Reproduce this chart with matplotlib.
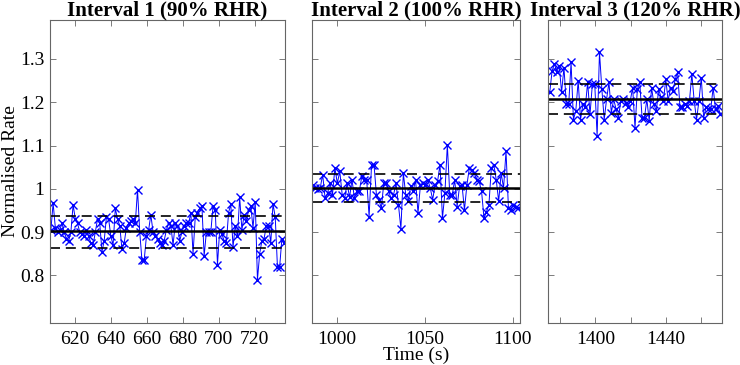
import numpy as np
from matplotlib import pyplot as plt

plt.rcParams['font.family'] = ['Liberation Serif', 'DejaVu Serif']

titles = ['Interval 1 (90% RHR)', 'Interval 2 (100% RHR)', 'Interval 3 (120% RHR)']

time_1 = (606.5, 736.5)
rate_1 = [0.905, 0.967, 0.91, 0.90, 0.905, 0.92, 0.90, 0.885, 0.88, 0.90, 0.963, 0.93, 0.92, 0.90,
          0.895, 0.89, 0.905, 0.89, 0.875, 0.87, 0.90, 0.93, 0.92, 0.855, 0.88, 0.935, 0.93, 0.89,
          0.87, 0.955, 0.93, 0.915, 0.86, 0.875, 0.91, 0.92, 0.925, 0.93, 0.92, 0.998, 0.90, 0.835,
          0.835, 0.89, 0.905, 0.94, 0.90, 0.89, 0.885, 0.875, 0.87, 0.88, 0.905, 0.92, 0.915, 0.87,
          0.92, 0.915, 0.88, 0.90, 0.915, 0.92, 0.92, 0.945, 0.85, 0.935, 0.945, 0.955, 0.96, 0.845,
          0.90, 0.90, 0.90, 0.96, 0.95, 0.825, 0.905, 0.895, 0.88, 0.875, 0.945, 0.965, 0.865, 0.915,
          0.89, 0.98, 0.905, 0.94, 0.925, 0.95, 0.96, 0.91, 0.97, 0.79, 0.85, 0.88, 0.885, 0.915,
          0.915, 0.875, 0.965, 0.935, 0.82, 0.82, 0.885, 0.875]
band_1 = (0.864, 0.902, 0.938)

time_2 = (986.5, 1103.0)
rate_2 = [1.009, 1.002, 1.0, 1.002, 1.033, 0.978, 0.99, 1.013, 0.986, 1.048, 1.013, 1.04, 0.986,
          0.978, 1.013, 0.98, 1.021, 0.978, 0.994, 0.994, 1.029, 1.021, 1.021, 0.936, 1.056, 1.056,
          0.986, 0.975, 0.955, 1.013, 1.013, 0.994, 0.978, 0.986, 1.013, 0.963, 0.908, 1.036, 0.986,
          0.971, 1.006, 0.994, 1.021, 0.944, 1.009, 1.013, 1.009, 1.021, 1.002, 0.975, 1.009, 1.017,
          1.056, 0.932, 0.99, 1.102, 0.986, 0.986, 1.021, 0.959, 1.006, 1.009, 0.951, 1.009, 1.048,
          1.044, 1.036, 1.021, 1.017, 0.994, 0.932, 0.947, 0.963, 1.048, 1.056, 1.021, 0.971, 1.036,
          1.002, 1.087, 0.955, 0.951, 0.963, 0.959, 0.955]
band_2 = (0.969, 1.001, 1.034)

time_3 = (1374.0, 1471.0)
rate_3 = [1.223, 1.273, 1.288, 1.27, 1.284, 1.223, 1.28, 1.195, 1.195, 1.292, 1.16, 1.18, 1.25,
          1.16, 1.195, 1.188, 1.246, 1.172, 1.242, 1.242, 1.122, 1.316, 1.23, 1.16, 1.207, 1.246,
          1.176, 1.207, 1.184, 1.164, 1.203, 1.207, 1.199, 1.188, 1.203, 1.234, 1.141, 1.23, 1.246,
          1.164, 1.164, 1.207, 1.157, 1.234, 1.195, 1.18, 1.23, 1.211, 1.203, 1.253, 1.203, 1.234,
          1.226, 1.253, 1.269, 1.188, 1.188, 1.195, 1.191, 1.203, 1.265, 1.203, 1.16, 1.203, 1.257,
          1.164, 1.188, 1.184, 1.184, 1.234, 1.184, 1.191, 1.172]
band_3 = (1.172, 1.207, 1.243)

xlims = [(606, 737), (986, 1104), (1373, 1472)]
xticks = [[620, 640, 660, 680, 700, 720], [1000, 1050, 1100], [1380, 1400, 1420, 1440, 1460]]
xticklabels = [['620', '640', '660', '680', '700', '720'], ['1000', '1050', '1100'],
               ['', '1400', '', '1440', '']]
yticks = [0.8, 0.9, 1.0, 1.1, 1.2, 1.3]
yticklabels = ['0.8', '0.9', '1', '1.1', '1.2', '1.3']

W, H = 740, 365
boxes = [(50, 285), (312, 520), (548, 722)]
top, bottom = 20, 323

fig = plt.figure(figsize=(W / 100, H / 100), dpi=100)

panels = [(time_1, rate_1, band_1), (time_2, rate_2, band_2), (time_3, rate_3, band_3)]
for i, ((t0, t1), rate, band) in enumerate(panels):
    x0, x1 = boxes[i]
    ax = fig.add_axes([x0 / W, 1 - bottom / H, (x1 - x0) / W, (bottom - top) / H])
    t = np.linspace(t0, t1, len(rate))
    ax.plot(t, rate, color='blue', marker='x', markersize=5.5, linewidth=0.7, markeredgewidth=1.0)
    ax.axhline(band[1], color='black', linewidth=1.8)
    ax.axhline(band[0], color='black', linewidth=1.2, linestyle=(0, (6, 3.5)))
    ax.axhline(band[2], color='black', linewidth=1.2, linestyle=(0, (6, 3.5)))
    ax.set_xlim(*xlims[i])
    ax.set_ylim(0.69, 1.39)
    ax.set_xticks(xticks[i])
    ax.set_xticklabels(xticklabels[i])
    ax.set_yticks(yticks)
    if i == 0:
        ax.set_yticklabels(yticklabels)
        ax.set_ylabel('Normalised Rate', fontsize=14, labelpad=1)
    else:
        ax.set_yticklabels([])
    ax.tick_params(direction='in', top=True, right=True, length=4, width=0.6,
                   color='#666666', labelsize=14, pad=6)
    ax.tick_params(axis='y', pad=4)
    for s in ax.spines.values():
        s.set_color('#666666')
        s.set_linewidth(0.8)
    ax.set_title(titles[i], fontsize=15, fontweight='bold', pad=3)
    if i == 1:
        ax.set_xlabel('Time (s)', fontsize=14, labelpad=-1)

fig.savefig('out.png', dpi=100)
